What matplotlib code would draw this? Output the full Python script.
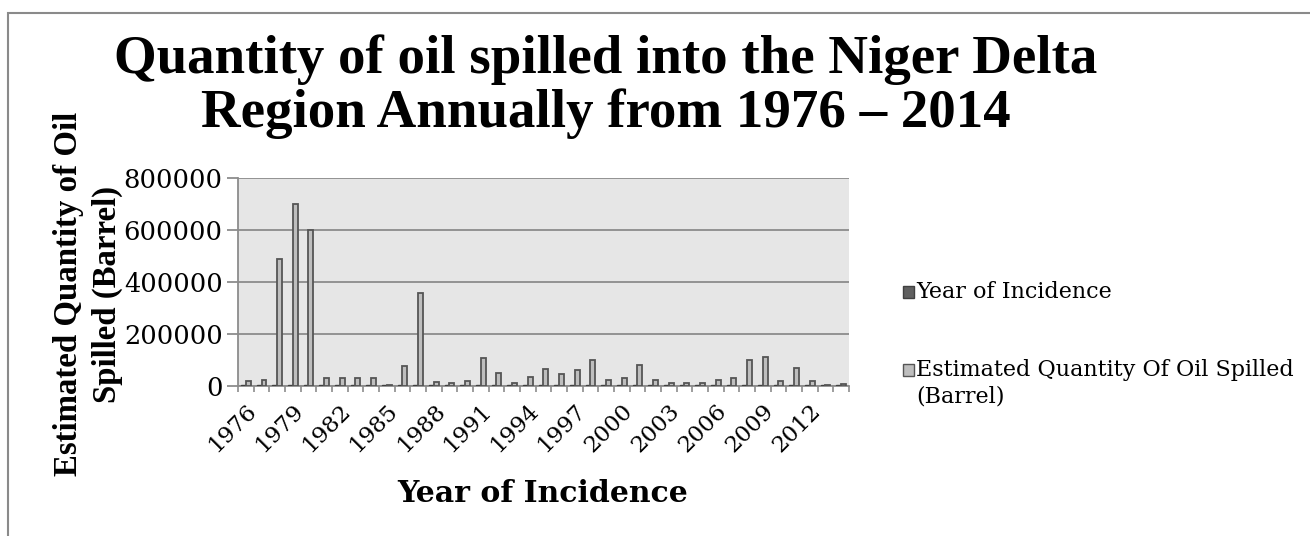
import matplotlib
matplotlib.use("Agg")
import matplotlib.pyplot as plt
import matplotlib.transforms as mtransforms
from matplotlib.patches import Rectangle
import numpy as np

# ── data ────────────────────────────────────────────────────────────────
years = [1976, 1977, 1978, 1979, 1980, 1981, 1982, 1983, 1984, 1985,
         1986, 1987, 1988, 1989, 1990, 1991, 1992, 1993, 1994, 1995,
         1996, 1997, 1998, 1999, 2000, 2001, 2002, 2003, 2004, 2005,
         2006, 2007, 2008, 2009, 2010, 2011, 2012, 2013, 2014]
spilled = [20000, 25000, 490000, 700000, 600000, 30000, 30000, 30000, 30000, 5000,
           76000, 356000, 15000, 10000, 20000, 108000, 50000, 10000, 36000, 64000,
           46000, 60000, 100000, 22000, 31000, 80000, 22000, 11000, 10000, 13000,
           22000, 31000, 100000, 110000, 18000, 69000, 18000, 3000, 9000]
tick_years = [1976, 1979, 1982, 1985, 1988, 1991, 1994, 1997, 2000, 2003, 2006, 2009, 2012]
yticks = [0, 200000, 400000, 600000, 800000]

SERIF = ["DejaVu Serif"]
LIB = ["Liberation Serif", "DejaVu Serif"]
DARK, LIGHT, EDGE, GRID, BG = "#606060", "#BEBEBE", "#555555", "#8C8C8C", "#E6E6E6"

plt.rcParams.update({"font.family": SERIF})

W, H = 1310, 536
fig = plt.figure(figsize=(W / 100, H / 100), dpi=100)

# outer chart frame (cropped on the right and bottom like the reference)
fig.patches.append(Rectangle((8 / W, -0.1), 1.2, 1 - 13 / H + 0.1, transform=fig.transFigure,
                             fill=False, edgecolor="#8A8A8A", linewidth=1.5))

ax = fig.add_axes([238 / W, 1 - 386 / H, (849 - 238) / W, (386 - 178) / H])
ax.set_facecolor(BG)

x = np.arange(len(years))
bw = 0.3
ax.bar(x - bw / 2, years, width=bw, color=DARK, edgecolor="#404040", linewidth=1.0, zorder=3)
ax.bar(x + bw / 2, spilled, width=bw, color=LIGHT, edgecolor=EDGE, linewidth=1.3, zorder=3)

ax.set_xlim(-0.5, len(years) - 0.5)
ax.set_ylim(0, 800000)
ax.set_yticks(yticks)
ax.set_yticklabels([str(v) for v in yticks], fontsize=18.5)
ax.yaxis.grid(True, color=GRID, linewidth=1.3, zorder=0)
ax.set_axisbelow(True)

tick_idx = [years.index(t) for t in tick_years]
ax.set_xticks(tick_idx)
ax.set_xticklabels([str(t) for t in tick_years], fontsize=16.5, rotation=45,
                   ha="right", va="top", rotation_mode="anchor")
shift = mtransforms.ScaledTranslation(-0.11, 0, fig.dpi_scale_trans)
for lab in ax.get_xticklabels():
    lab.set_transform(lab.get_transform() + shift)
ax.set_xticks(np.arange(-0.5, len(years)), minor=True)
ax.tick_params(axis="x", which="major", length=0, pad=10)
ax.tick_params(axis="x", which="minor", length=4, color=GRID, width=1.2)
ax.tick_params(axis="y", length=8, color=GRID, width=1.3, pad=3)

for side in ["top", "right"]:
    ax.spines[side].set_visible(False)
for side in ["left", "bottom"]:
    ax.spines[side].set_color(GRID)
    ax.spines[side].set_linewidth(1.3)

# ── labels ───────────────────────────────────────────────────────────────
fig.text(606 / W, 1 - 87 / H, "Quantity of oil spilled into the Niger Delta\nRegion Annually from 1976 \u2013 2014",
         ha="center", va="center", fontsize=39.5, fontweight="bold", linespacing=1.08,
         family=LIB)
fig.text(88 / W, 1 - 294 / H, "Estimated Quantity of Oil\nSpilled (Barrel)",
         ha="center", va="center", rotation=90, fontsize=23.7, fontweight="bold",
         linespacing=1.3, family=LIB)
fig.text(543 / W, 1 - 494 / H, "Year of Incidence", ha="center", va="center",
         fontsize=21.5, fontweight="bold")

# ── legend ───────────────────────────────────────────────────────────────
for (ly, col, ec, label) in [(292, DARK, "#404040", "Year of Incidence"),
                             (370, LIGHT, EDGE, "Estimated Quantity Of Oil Spilled\n(Barrel)")]:
    fig.patches.append(Rectangle((903 / W, 1 - (ly + 6) / H), 11 / W, 12 / H,
                                 transform=fig.transFigure, facecolor=col, edgecolor=ec, linewidth=1))
    fig.text(916 / W, 1 - (ly - 11) / H, label, ha="left", va="top", fontsize=16, linespacing=1.25)

fig.savefig("out.png", dpi=100)
